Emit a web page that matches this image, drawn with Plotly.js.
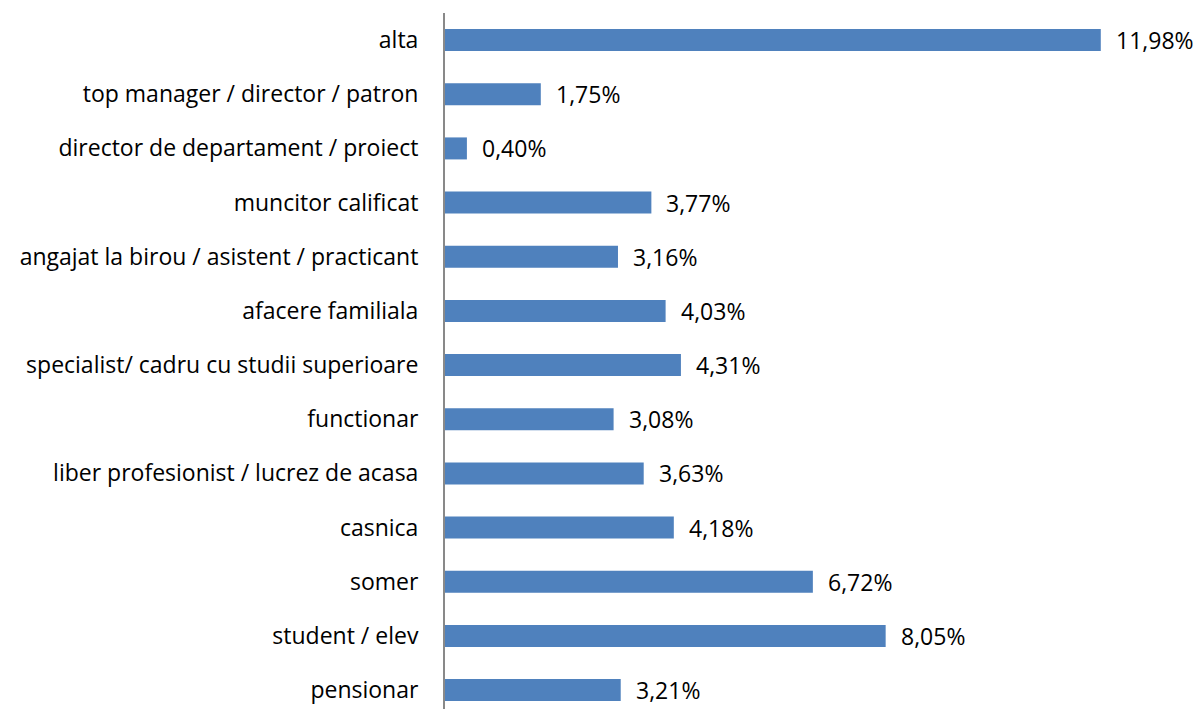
<!DOCTYPE html>
<html>
<head>
<meta charset="utf-8">
<script src="https://cdn.plot.ly/plotly-3.0.1.min.js"></script>
<style>html,body{margin:0;padding:0;background:#fff;}#chart{width:1202px;height:709px;}</style>
</head>
<body>
<div id="chart"></div>
<script>
// Categories listed bottom to top
const categories = [
  "pensionar",
  "student / elev",
  "somer",
  "casnica",
  "liber profesionist / lucrez de acasa",
  "functionar",
  "specialist/ cadru cu studii superioare",
  "afacere familiala",
  "angajat la birou / asistent / practicant",
  "muncitor calificat",
  "director de departament / proiect",
  "top manager / director / patron",
  "alta"
];
const values = [3.21, 8.05, 6.72, 4.18, 3.63, 3.08, 4.31, 4.03, 3.16, 3.77, 0.40, 1.75, 11.98];

const labels = values.map(v => v.toFixed(2).replace('.', ',') + '%');
const font = "'Open Sans', sans-serif";

const trace = {
  type: 'bar',
  orientation: 'h',
  y: categories,
  x: values,
  width: 0.406,
  marker: {color: '#4F81BD'},
  hoverinfo: 'skip'
};

const annotations = values.map((v, i) => ({
  x: v, y: categories[i], xref: 'x', yref: 'y',
  text: labels[i], showarrow: false, xanchor: 'left', yanchor: 'middle',
  xshift: 13,
  font: {family: font, size: 23, color: '#000'}
}));

const layout = {
  width: 1202, height: 709,
  margin: {l: 445, r: 18, t: 13, b: 0},
  paper_bgcolor: '#fff', plot_bgcolor: '#fff',
  showlegend: false,
  xaxis: {range: [0, 13.5], showgrid: false, zeroline: false, showticklabels: false, showline: false, ticks: ''},
  yaxis: {
    type: 'category', range: [-0.349, 12.5],
    showgrid: false, zeroline: false, showline: true, linecolor: '#898989', linewidth: 2,
    ticks: '', ticklabelstandoff: 20,
    tickfont: {family: font, size: 23, color: '#000'}
  },
  annotations: annotations
};

Plotly.newPlot('chart', [trace], layout, {staticPlot: true, displayModeBar: false});
</script>
</body>
</html>
